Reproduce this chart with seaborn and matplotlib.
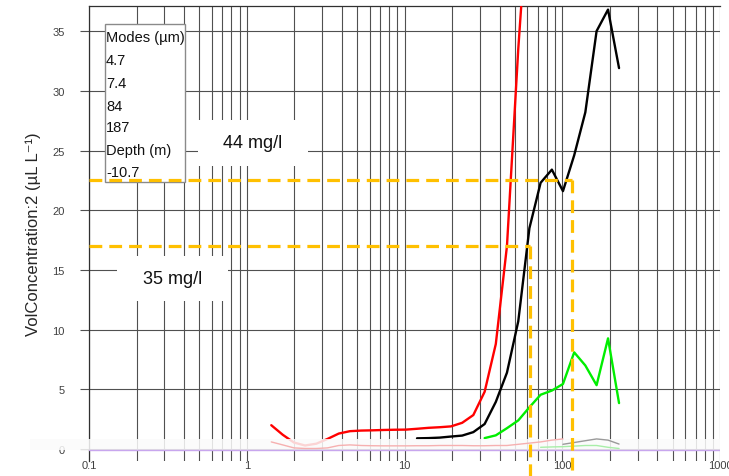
import numpy as np
import pandas as pd
import matplotlib
matplotlib.use("Agg")
import matplotlib.pyplot as plt
import matplotlib.transforms as mtransforms
from matplotlib.patches import Rectangle
from matplotlib.ticker import FixedLocator, LogLocator, NullFormatter
import seaborn as sns

nan = np.nan

# particle size bins (um)
sizes = [1.43, 1.69, 1.99, 2.34, 2.76, 3.25, 3.83, 4.51, 5.31, 6.26, 7.37, 8.68,
         10.2, 12.0, 14.2, 16.7, 19.7, 23.2, 27.3, 32.2, 37.9, 44.6, 52.6, 61.9,
         72.9, 85.9, 101, 119, 140, 165, 195, 229]

red = [2.0, 1.2, 0.55, 0.3, 0.45, 0.85, 1.3, 1.5, 1.55, 1.57, 1.6, 1.62,
       1.63, 1.7, 1.78, 1.83, 1.9, 2.2, 2.85, 4.8, 8.8, 17.0, 33.5, 47.0,
       nan, nan, nan, nan, nan, nan, nan, nan]
black = [nan, nan, nan, nan, nan, nan, nan, nan, nan, nan, nan, nan,
         nan, 0.9, 0.92, 0.96, 1.05, 1.13, 1.42, 2.1, 3.95, 6.4, 10.7, 18.5,
         22.3, 23.4, 21.6, 24.6, 28.2, 35.0, 36.8, 31.9]
green = [nan, nan, nan, nan, nan, nan, nan, nan, nan, nan, nan, nan,
         nan, nan, nan, nan, nan, nan, nan, 0.92, 1.15, 1.75, 2.4, 3.5,
         4.55, 4.9, 5.45, 8.1, 7.0, 5.35, 9.27, 3.85]

# faded profiles under the white strip
pink_faint = [0.6, 0.35, 0.1, 0.05, 0.05, 0.1, 0.3, 0.35, 0.3, 0.28, 0.27, 0.27,
              0.27, 0.28, 0.28, 0.3, 0.3, 0.3, 0.28, 0.28, 0.3, 0.3, 0.4, 0.5,
              0.6, 0.75, 0.85, nan, nan, nan, nan, nan]
gray_faint = [nan] * 26 + [0.4, 0.55, 0.7, 0.85, 0.75, 0.42]
green_faint = [nan] * 24 + [0.15, 0.18, 0.2, 0.25, 0.3, 0.3, 0.15, 0.05]

modes_text = ["Modes (\u00b5m)", "4.7", "7.4", "84", "187", "Depth (m)", "-10.7"]
conc_labels = ["44 mg/l", "35 mg/l"]
conc_levels = [22.5, 17.0]
conc_sizes = [116, 62.5]

xticks = [0.1, 1, 10, 100, 1000]
xticklabels = ["0.1", "1", "10", "100", "1000"]
yticks = [0, 5, 10, 15, 20, 25, 30, 35]

sns.set_style("white")
plt.rcParams['font.family'] = ['Liberation Sans', 'DejaVu Sans']

fig = plt.figure(figsize=(7.29, 4.77), dpi=100)
ax = fig.add_axes([0.1221, 0.0314, 0.8656, 0.9539])

n = len(sizes)
df = pd.DataFrame({
    "size": sizes * 3,
    "vol": red + black + green,
    "series": ["red"] * n + ["black"] * n + ["green"] * n,
}).dropna()
sns.lineplot(data=df, x="size", y="vol", hue="series",
             palette={"red": "#ff0000", "black": "#000000", "green": "#00ee00"},
             estimator=None, lw=1.7, legend=False, ax=ax, zorder=4)

ax.set_xscale("log")
ax.set_xlim(0.1, 1000)
ax.set_ylim(-1.0, 37.1)
ax.xaxis.set_major_locator(FixedLocator(xticks))
ax.xaxis.set_minor_locator(LogLocator(base=10, subs=range(2, 10)))
ax.xaxis.set_minor_formatter(NullFormatter())
ax.set_xticks(xticks)
ax.set_xticklabels(xticklabels)
ax.set_yticks(yticks)
ax.set_axisbelow(True)
ax.grid(which="both", axis="x", color="#505050", lw=0.8)
ax.grid(which="major", axis="y", color="#505050", lw=0.8)
ax.tick_params(axis="x", which="both", length=0, pad=-1, labelsize=8, labelcolor="#404040")
ax.tick_params(axis="y", which="major", left=True, length=6.5, width=0.8, color="#505050",
               pad=11, labelsize=8, labelcolor="#404040")
ax.set_xlabel("")
ax.set_ylabel("VolConcentration:2 (\u00b5L L\u207b\u00b9)", fontsize=12, labelpad=8)
for side in ["left", "top"]:
    ax.spines[side].set_color("#303030")
    ax.spines[side].set_linewidth(0.9)
ax.spines["bottom"].set_visible(False)
ax.spines["right"].set_visible(False)

# washed out strip near zero
blend = mtransforms.blended_transform_factory(ax.transAxes, ax.transData)
ax.add_patch(Rectangle((-0.094, -0.08), 1.094, 0.92, transform=blend, facecolor="#fbfbfb",
                       alpha=0.85, edgecolor="none", clip_on=False, zorder=5))
faint = pd.DataFrame({
    "size": sizes * 3,
    "vol": pink_faint + gray_faint + green_faint,
    "series": ["pink"] * n + ["gray"] * n + ["lgreen"] * n,
}).dropna()
sns.lineplot(data=faint, x="size", y="vol", hue="series",
             palette={"pink": "#f6b0b0", "gray": "#9a9a9a", "lgreen": "#a8eea8"},
             estimator=None, lw=1.0, legend=False, ax=ax, zorder=5.5)
ax.axhline(-0.05, color="#c8a6ee", lw=1.0, zorder=6)

# concentration guides
for level, size in zip(conc_levels, conc_sizes):
    ax.plot([0.1, size], [level, level], color="#ffc000", lw=2.3,
            dashes=(4, 2.2), zorder=7)
    ax.plot([size, size], [level, -2.3], color="#ffc000", lw=2.3,
            dashes=(4, 2.2), zorder=7, clip_on=False)

# modes box
ax.add_patch(Rectangle((0.0254, 0.613), 0.1268, 0.347, transform=ax.transAxes,
                       facecolor="white", edgecolor="#8a8a8a", lw=1.0, zorder=6.5))
for txt, yy in zip(modes_text, [0.932, 0.881, 0.830, 0.780, 0.734, 0.684, 0.635]):
    ax.text(0.027, yy, txt, transform=ax.transAxes, ha="left", va="center",
            fontsize=10.5, color="#111111", zorder=8)

# concentration labels
for lab, (x0, y0, w, h) in zip(conc_labels, [(0.1727, 0.6484, 0.1744, 0.1011),
                                             (0.0444, 0.3516, 0.1759, 0.0989)]):
    ax.add_patch(Rectangle((x0, y0), w, h, transform=ax.transAxes,
                           facecolor="white", edgecolor="none", zorder=3))
    ax.text(x0 + w / 2, y0 + h / 2, lab, transform=ax.transAxes, ha="center",
            va="center", fontsize=13, color="#111111", zorder=3.5)

fig.savefig("out.png", dpi=100)
